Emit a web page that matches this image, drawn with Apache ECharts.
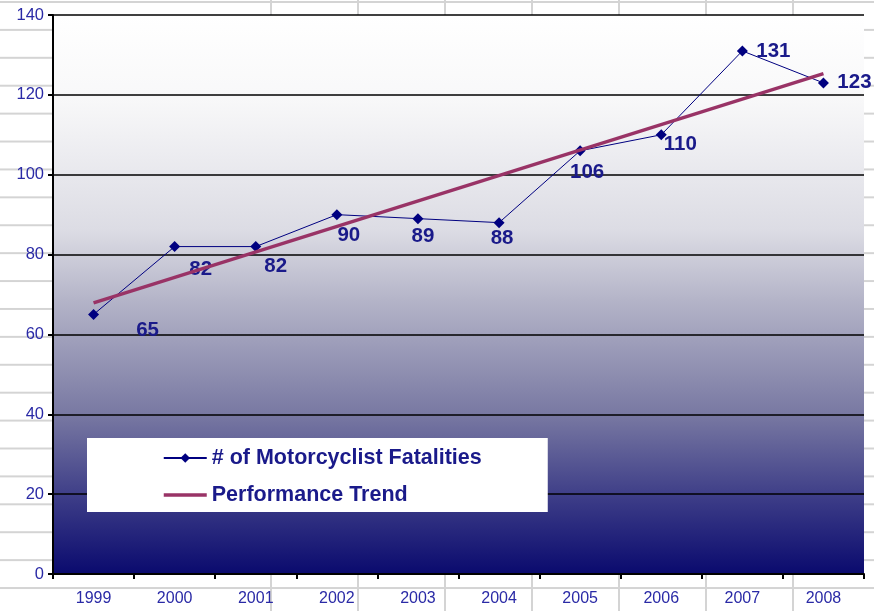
<!DOCTYPE html>
<html>
<head>
<meta charset="utf-8">
<script src="https://cdn.jsdelivr.net/npm/echarts@6/dist/echarts.min.js"></script>
<style>
    html, body { margin: 0; padding: 0; background: #ffffff; }
    #sheet {
        position: absolute; left: 0; top: 0; width: 874px; height: 611px;
        background-image: linear-gradient(#d4d4d4 2px, transparent 2px);
        background-size: 100% 27.92px;
        background-position: 0 1px;
    }
    #sheetCols {
        position: absolute; left: 270px; top: 0; width: 604px; height: 611px;
        background-image: linear-gradient(90deg, #d4d4d4 2px, transparent 2px);
        background-size: 87px 100%;
    }
    #chart { position: absolute; left: 0; top: 0; width: 874px; height: 611px; }
</style>
</head>
<body>
<div id="sheet"></div>
<div id="sheetCols"></div>
<div id="chart"></div>
<script>
// 数据
const years = ['1999', '2000', '2001', '2002', '2003', '2004', '2005', '2006', '2007', '2008'];
const fatalities = [65, 82, 82, 90, 89, 88, 106, 110, 131, 123];
// 趋势线端点
const trendYears = ['1999', '2008'];
const trendValues = [67.9, 125.3];

// 数据标签偏移（样式）
const labelOffsets = [[54, 16], [26, 23], [20, 20], [12, 21], [5, 18], [3, 16], [7, 22], [19, 10], [31, 0], [31, -1]];

const navy = '#000080';
const labelColor = '#1a1a8a';
const axisTextColor = '#2a2aa6';
const fontFamily = 'Liberation Sans, Arial, sans-serif';

const chart = echarts.init(document.getElementById('chart'));

const option = {
    backgroundColor: 'transparent',
    animation: false,
    grid: {
        left: 53,
        right: 10,
        top: 15,
        bottom: 37,
        show: true,
        borderWidth: 0,
        backgroundColor: new echarts.graphic.LinearGradient(0, 0, 0, 1, [
            { offset: 0, color: '#ffffff' },
            { offset: 0.15, color: '#f8f8f9' },
            { offset: 0.385, color: '#dcdce4' },
            { offset: 0.51, color: '#b4b4c8' },
            { offset: 0.716, color: '#7878a2' },
            { offset: 0.87, color: '#3a3a86' },
            { offset: 1, color: '#0a0a6e' }
        ])
    },
    legend: {
        left: 87,
        top: 438,
        orient: 'vertical',
        backgroundColor: '#ffffff',
        padding: [9, 66, 6, 75],
        itemGap: 15,
        itemWidth: 43,
        itemHeight: 12,
        textStyle: {
            color: labelColor,
            fontFamily: fontFamily,
            fontWeight: 'bold',
            fontSize: 21.5
        },
        data: [
            { name: '# of Motorcyclist Fatalities' },
            {
                name: 'Performance Trend',
                itemStyle: { color: 'transparent', borderWidth: 0 },
                lineStyle: { width: 3.5 }
            }
        ]
    },
    xAxis: {
        type: 'category',
        data: years,
        axisLine: { lineStyle: { color: '#000', width: 2 } },
        axisTick: { show: true, length: 5, lineStyle: { color: '#000', width: 2 } },
        axisLabel: {
            color: axisTextColor,
            fontFamily: fontFamily,
            fontSize: 16,
            margin: 17
        },
        splitLine: { show: false }
    },
    yAxis: {
        type: 'value',
        min: 0,
        max: 140,
        interval: 20,
        axisLine: { show: true, lineStyle: { color: '#000', width: 2 } },
        axisTick: { show: true, length: 5, lineStyle: { color: '#000', width: 2 } },
        axisLabel: {
            color: axisTextColor,
            fontFamily: fontFamily,
            fontSize: 16.5,
            margin: 9
        },
        splitLine: { lineStyle: { color: '#000', width: 1.5 } }
    },
    series: [
        {
            name: '# of Motorcyclist Fatalities',
            type: 'line',
            data: fatalities.map((v, i) => ({
                value: v,
                label: { offset: labelOffsets[i] }
            })),
            symbol: 'diamond',
            symbolSize: 11,
            itemStyle: { color: navy },
            lineStyle: { color: navy, width: 1 },
            label: {
                show: true,
                position: 'inside',
                color: labelColor,
                fontFamily: fontFamily,
                fontWeight: 'bold',
                fontSize: 20.5
            },
            z: 3
        },
        {
            name: 'Performance Trend',
            type: 'line',
            data: trendYears.map((y, i) => [y, trendValues[i]]),
            symbol: 'none',
            lineStyle: { color: '#993366', width: 3.5 },
            itemStyle: { color: '#993366' },
            z: 4
        }
    ]
};

chart.setOption(option);
</script>
</body>
</html>
